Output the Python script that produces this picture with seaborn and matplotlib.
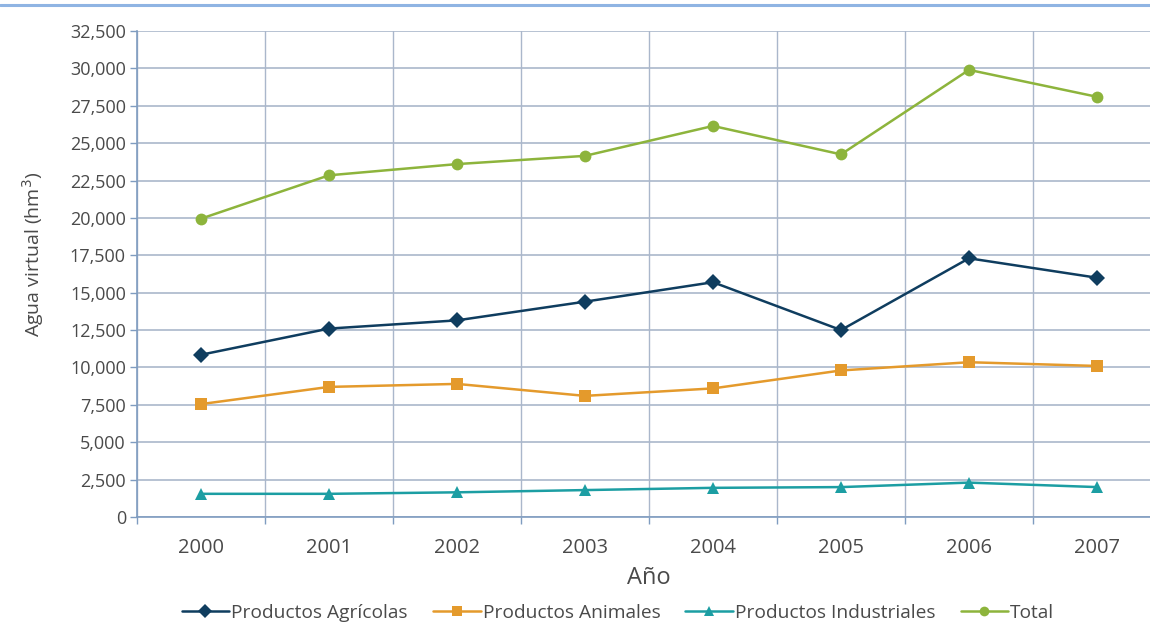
import matplotlib
matplotlib.use("Agg")
import matplotlib.pyplot as plt
from matplotlib.lines import Line2D
from matplotlib.ticker import FuncFormatter, MultipleLocator
import numpy as np
import pandas as pd
import seaborn as sns

years = [2000, 2001, 2002, 2003, 2004, 2005, 2006, 2007]
agricolas = [10850, 12600, 13150, 14400, 15700, 12500, 17300, 16000]
animales = [7550, 8700, 8900, 8100, 8600, 9800, 10350, 10100]
industriales = [1550, 1550, 1650, 1800, 1950, 2000, 2300, 2000]
total = [19950, 22850, 23600, 24150, 26150, 24250, 29900, 28100]

series_names = ["Productos Agrícolas", "Productos Animales",
                "Productos Industriales", "Total"]
series_values = [agricolas, animales, industriales, total]
colors = ["#0f3d5f", "#e49a2c", "#1c9ea3", "#8db43c"]
markers = ["D", "s", "^", "o"]

df = pd.DataFrame({
    "Año": years * len(series_names),
    "valor": sum(series_values, []),
    "serie": [n for n in series_names for _ in years],
})

sns.set_theme(style="white")
plt.rcParams["font.family"] = ["Open Sans", "DejaVu Sans"]

text_col = "#4a4a4a"

fig = plt.figure(figsize=(11.5, 6.29), dpi=100)
ax = fig.add_axes([137 / 1150, 112 / 629, 1024 / 1150, 486 / 629])

sns.lineplot(
    data=df, x="Año", y="valor", hue="serie", style="serie",
    palette=dict(zip(series_names, colors)),
    markers=dict(zip(series_names, markers)),
    dashes=False, markersize=8.5, markeredgewidth=0, linewidth=1.8,
    ax=ax, legend=False, zorder=3,
)

ax.set_xlim(1999.5, 2007.5)
ax.set_ylim(0, 32500)
ax.yaxis.set_major_locator(MultipleLocator(2500))
ax.yaxis.set_major_formatter(FuncFormatter(lambda v, p: f"{int(v):,}"))
ax.set_xticks(years)
ax.set_xticklabels([str(y) for y in years])
ax.set_xticks(np.arange(1999.5, 2008, 1.0), minor=True)

grid_col = "#aab7cb"
ax.grid(True, axis="y", which="major", color=grid_col, linewidth=1.2)
ax.grid(True, axis="x", which="minor", color=grid_col, linewidth=1.0)
ax.grid(False, axis="x", which="major")

for side in ["top", "right"]:
    ax.spines[side].set_visible(False)
for side in ["left", "bottom"]:
    ax.spines[side].set_color("#7f9cc0")
    ax.spines[side].set_linewidth(1.2)

ax.tick_params(axis="y", which="major", left=True, length=5, width=1,
               color="#7f9cc0", labelsize=13, labelcolor=text_col, pad=3)
ax.tick_params(axis="x", which="major", bottom=False, labelsize=14.5,
               labelcolor=text_col, pad=9)
ax.tick_params(axis="x", which="minor", bottom=True, length=5,
               color="#7f9cc0")

ax.set_xlabel("Año", fontsize=17, color=text_col, labelpad=6)
ax.set_ylabel("Agua virtual (hm$^3$)", fontsize=14, color=text_col)
ax.yaxis.set_label_coords(-0.089, 0.54)

handles = [Line2D([0], [0], color=c, marker=m, markersize=7,
                  markeredgewidth=0, linewidth=1.8)
           for c, m in zip(colors, markers)]
fig.legend(handles, series_names, loc="center",
           bbox_to_anchor=(618 / 1150, 1 - 613 / 629),
           ncol=4, frameon=False, fontsize=13.8, handlelength=2.5,
           handletextpad=0.1, columnspacing=1.3, labelcolor=text_col)

fig.add_artist(Line2D([0, 1], [1 - 5 / 629, 1 - 5 / 629],
                      color="#8fb4e3", linewidth=2.2,
                      transform=fig.transFigure))

fig.savefig("out.png", dpi=100)
